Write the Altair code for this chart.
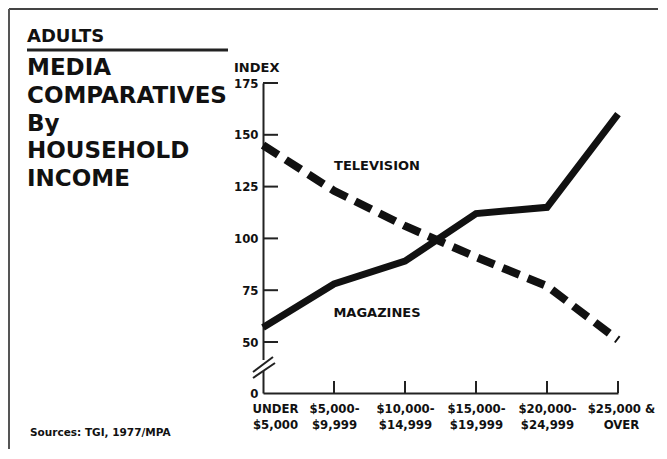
import altair as alt
import pandas as pd

# ---- data ----
categories = ["UNDER|$5,000", "$5,000-|$9,999", "$10,000-|$14,999",
              "$15,000-|$19,999", "$20,000-|$24,999", "$25,000 &|OVER"]
magazines = [57, 78, 89, 112, 115, 160]
television = [145, 123, 106, 91, 77, 51]
y_ticks = [0, 50, 75, 100, 125, 150, 175]
inner_ticks = [50, 75, 100, 125, 150, 175]
series_labels = ["TELEVISION", "MAGAZINES"]
label_values = [135, 64]
title_lines = ["MEDIA", "COMPARATIVES", "By", "HOUSEHOLD", "INCOME"]

W, H = 355, 310
BOLD_C = "DejaVu Sans Condensed, DejaVu Sans, sans-serif"

rows = []
for c, v in zip(categories, magazines):
    rows.append({"cat": c, "value": v, "series": "MAGAZINES"})
for c, v in zip(categories, television):
    rows.append({"cat": c, "value": v, "series": "TELEVISION"})
df = pd.DataFrame(rows)

xscale = alt.Scale(type="point", padding=0, domain=categories)
yscale = alt.Scale(domain=[0, 50, 175], range=[H, 259, 0], nice=False, zero=False)

xs = alt.X("cat:N", sort=categories, scale=xscale, title=None,
           axis=alt.Axis(title=None, labelAngle=0, ticks=False,
                         domainColor="#222", domainWidth=2,
                         labelExpr="split(datum.label, '|')",
                         labelOffset=alt.ExprRef(expr="datum.index == 0 ? 12 : (datum.index == 1 ? 3 : (datum.index == 1 ? 2 : 0))"),
                         labelFont=BOLD_C, labelFontWeight="bold",
                         labelFontSize=13, labelColor="#111",
                         labelLineHeight=16, labelPadding=9))
ys = alt.Y("value:Q", scale=yscale, title=None,
           axis=alt.Axis(title=None, values=y_ticks, ticks=False, grid=False,
                         domainColor="#222", domainWidth=2,
                         labelFont=BOLD_C, labelFontWeight="bold",
                         labelFontSize=13, labelColor="#111", labelPadding=5))
xs2 = alt.X("cat:N", sort=categories, scale=xscale, title=None)
ys2 = alt.Y("value:Q", scale=yscale, title=None)

base = alt.Chart(df)
mag = base.transform_filter(alt.datum.series == "MAGAZINES").mark_line(
    color="#111", strokeWidth=7, strokeJoin="miter").encode(x=xs, y=ys)
tv = base.transform_filter(alt.datum.series == "TELEVISION").mark_line(
    color="#111", strokeWidth=8, strokeDash=[18, 9], strokeCap="butt").encode(x=xs2, y=ys2)

lab_df = pd.DataFrame({"cat": [categories[1]] * 2, "value": label_values, "text": series_labels})
labels = alt.Chart(lab_df).mark_text(
    font="DejaVu Sans, sans-serif", fontWeight="bold", fontSize=13, color="#111",
    dx=43, align="center", baseline="middle").encode(
    x=xs2, y=ys2, text="text:N")

ytick_df = pd.DataFrame({"value": inner_ticks})
yticks = alt.Chart(ytick_df).mark_rule(color="#222", strokeWidth=2).encode(
    y=ys2, x=alt.value(0), x2=alt.value(15))

xtick_df = pd.DataFrame({"cat": categories[1:]})
xticks = alt.Chart(xtick_df).mark_rule(color="#222", strokeWidth=2).encode(
    x=xs2, y=alt.value(H), y2=alt.value(H - 12))

one = pd.DataFrame({"k": [0]})
# axis break
gap = alt.Chart(one).mark_rule(color="white", strokeWidth=5).encode(
    x=alt.value(0), y=alt.value(277), y2=alt.value(288))
slash1 = alt.Chart(one).mark_rule(color="#222", strokeWidth=2).encode(
    x=alt.value(-10), x2=alt.value(10), y=alt.value(289), y2=alt.value(274))
slash2 = alt.Chart(one).mark_rule(color="#222", strokeWidth=2).encode(
    x=alt.value(-10), x2=alt.value(12), y=alt.value(295), y2=alt.value(280))

# frame (top and left edges of the scanned page)
frame_top = alt.Chart(one).mark_rule(color="#444", strokeWidth=2).encode(
    x=alt.value(-254), x2=alt.value(395), y=alt.value(-74))
frame_left = alt.Chart(one).mark_rule(color="#555", strokeWidth=2).encode(
    x=alt.value(-254), y=alt.value(-74), y2=alt.value(366))

# left title block
adults = alt.Chart(one).mark_text(
    font="DejaVu Sans, sans-serif", fontWeight="bold", fontSize=18, color="#111",
    align="left", baseline="alphabetic", text="ADULTS").encode(
    x=alt.value(-236), y=alt.value(-41))
underline = alt.Chart(one).mark_rule(color="#222", strokeWidth=3).encode(
    x=alt.value(-236), x2=alt.value(-35), y=alt.value(-33))
title_layers = []
for i, t in enumerate(title_lines):
    title_layers.append(alt.Chart(one).mark_text(
        font="DejaVu Sans, sans-serif", fontWeight="bold", fontSize=23, color="#111",
        align="left", baseline="alphabetic", text=t).encode(
        x=alt.value(-236), y=alt.value(-8 + i * 27.75)))

index_lbl = alt.Chart(one).mark_text(
    font="DejaVu Sans, sans-serif", fontWeight="bold", fontSize=13, color="#111",
    align="left", baseline="alphabetic", text="INDEX").encode(
    x=alt.value(-29), y=alt.value(-11))

source = alt.Chart(one).mark_text(
    font="DejaVu Sans, sans-serif", fontWeight="bold", fontSize=10.5, color="#111",
    align="left", baseline="alphabetic", text="Sources: TGI, 1977/MPA").encode(
    x=alt.value(-233), y=alt.value(353))

chart = alt.layer(
    mag, tv, frame_top, frame_left, yticks, xticks, gap, slash1, slash2,
    labels, adults, underline, *title_layers, index_lbl, source
).properties(
    width=W, height=H, padding=0, background="white"
).configure_view(stroke=None)

chart.save("out.html", embed_options={"renderer": "svg", "actions": False})
